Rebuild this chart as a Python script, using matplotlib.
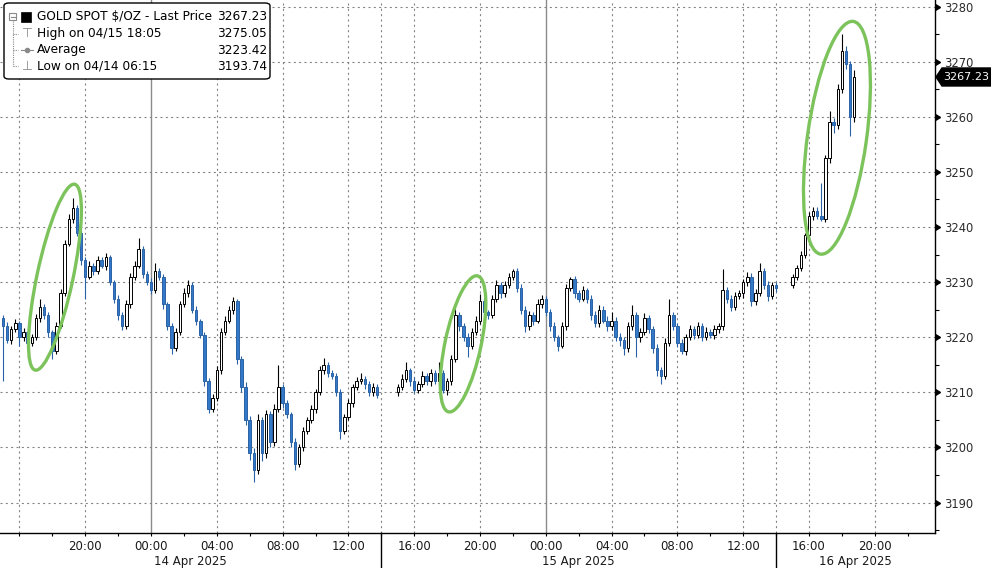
import matplotlib.pyplot as plt
import matplotlib.transforms as mtransforms
from matplotlib.patches import Ellipse, FancyBboxPatch, Polygon, Rectangle
from matplotlib.lines import Line2D
import numpy as np

# 15 minute bars, x = hours from 14 Apr 2025 00:00 (chart clock)
seg_start = [-9.0, 15.0, 39.0]
seg_open = [3223.5, 3210.0, 3229.5]

seg1_close = [3222.0, 3219.5, 3221.5, 3222.5, 3220.0, 3221.0, 3219.0, 3220.0, 3223.5, 3225.5,
              3224.0, 3221.0, 3217.5, 3222.0, 3228.0, 3237.0, 3241.5, 3243.5, 3239.0, 3234.0,
              3231.0, 3233.0, 3232.0, 3234.0, 3233.0, 3234.5, 3230.0, 3227.0, 3224.0, 3222.0,
              3226.0, 3231.0, 3233.0, 3236.0, 3231.5, 3230.0, 3228.5, 3232.0, 3231.0, 3226.0,
              3222.0, 3218.0, 3221.0, 3226.0, 3228.0, 3229.5, 3225.0, 3223.0, 3220.5, 3212.0,
              3207.0, 3209.0, 3214.0, 3221.0, 3223.0, 3225.0, 3226.5, 3216.0, 3211.0, 3205.0,
              3199.0, 3196.0, 3205.0, 3199.0, 3206.0, 3201.0, 3207.0, 3211.0, 3208.0, 3206.0,
              3201.0, 3197.0, 3200.0, 3203.0, 3205.0, 3207.0, 3210.0, 3214.0, 3215.0, 3213.5,
              3213.0, 3210.0, 3203.0, 3205.5, 3208.0, 3211.0, 3212.0, 3212.5, 3211.5, 3210.0,
              3211.0, 3209.5]
seg1_up = [0.5, 0.8, 0.6, 0.9, 0.4, 0.7, 0.5, 0.6, 0.8, 1.5,
           0.5, 0.6, 0.4, 0.7, 0.8, 0.6, 0.9, 1.8, 0.5, 0.7,
           0.6, 0.9, 0.5, 0.8, 0.6, 0.7, 0.5, 0.4, 0.6, 0.5,
           0.7, 0.6, 0.9, 2.0, 0.5, 0.6, 0.8, 1.5, 0.6, 0.5,
           0.4, 0.5, 0.7, 0.6, 0.9, 0.8, 0.5, 0.6, 0.4, 0.5,
           0.6, 0.7, 0.8, 0.6, 0.9, 0.7, 0.8, 0.5, 0.6, 0.8,
           0.7, 0.9, 1.0, 0.6, 0.8, 0.7, 0.9, 4.0, 0.5, 0.6,
           0.5, 0.7, 0.6, 0.8, 0.5, 0.7, 0.6, 0.8, 1.2, 0.5,
           0.6, 0.5, 0.7, 0.6, 0.8, 0.5, 0.7, 1.0, 0.5, 0.6,
           0.7, 0.5]
seg1_dn = [10.0, 0.6, 0.8, 0.5, 1.5, 0.7, 1.2, 0.6, 0.5, 0.8,
           0.6, 0.9, 1.5, 0.5, 0.4, 0.6, 0.5, 0.7, 0.6, 0.8,
           4.0, 0.5, 0.7, 0.6, 0.5, 0.8, 0.6, 0.7, 0.9, 0.6,
           0.5, 0.7, 0.6, 0.5, 0.8, 0.6, 0.7, 0.5, 0.6, 0.8,
           0.7, 1.0, 0.5, 0.6, 0.5, 0.7, 0.6, 0.8, 0.6, 0.9,
           0.8, 0.6, 0.5, 0.7, 0.6, 0.5, 0.7, 0.8, 0.9, 1.0,
           1.2, 2.26, 0.8, 1.5, 0.9, 1.0, 0.7, 0.6, 0.8, 0.7,
           0.9, 1.0, 0.6, 0.7, 0.5, 0.6, 0.7, 0.5, 0.6, 0.8,
           0.6, 0.7, 1.5, 0.6, 0.5, 0.7, 0.6, 0.5, 0.8, 0.6,
           0.7, 0.6]

seg2_close = [3211.0, 3212.5, 3214.0, 3212.0, 3210.5, 3211.5, 3213.0, 3212.0, 3213.5, 3212.0,
              3213.5, 3210.5, 3212.0, 3216.0, 3224.0, 3222.0, 3220.0, 3218.5, 3221.0, 3223.0,
              3226.5, 3224.5, 3224.0, 3227.0, 3229.5, 3228.0, 3229.5, 3231.0, 3232.0, 3229.0,
              3225.0, 3222.0, 3224.0, 3223.0, 3226.0, 3227.0, 3224.5, 3222.0, 3220.0, 3218.5,
              3222.0, 3229.0, 3230.5, 3228.0, 3227.0, 3228.5, 3227.0, 3224.0, 3222.5, 3225.0,
              3223.0, 3222.0, 3223.0, 3220.0, 3219.5, 3218.0, 3222.0, 3224.0, 3220.0, 3221.0,
              3223.5, 3221.5, 3218.0, 3214.0, 3213.0, 3219.0, 3224.0, 3222.0, 3219.0, 3217.5,
              3220.0, 3221.5, 3220.5, 3222.0, 3220.0, 3221.0, 3220.5, 3221.5, 3222.0, 3228.5,
              3227.0, 3225.5, 3227.5, 3228.0, 3230.0, 3231.0, 3226.5, 3228.0, 3232.0, 3229.5,
              3227.5, 3229.5, 3229.0]
seg2_up = [0.6, 0.8, 1.5, 0.5, 0.7, 0.6, 0.8, 0.5, 0.7, 0.6,
           2.0, 0.5, 0.6, 0.8, 1.2, 0.6, 0.5, 0.7, 0.6, 0.8,
           1.3, 0.6, 0.5, 0.7, 0.8, 0.6, 0.7, 0.6, 0.3, 0.5,
           0.6, 0.7, 0.8, 0.6, 0.9, 0.7, 0.5, 0.6, 0.7, 0.5,
           0.8, 0.6, 0.5, 0.7, 0.6, 0.8, 0.5, 0.6, 0.7, 0.9,
           0.6, 0.8, 1.5, 0.6, 0.7, 0.5, 0.8, 1.8, 0.6, 0.7,
           0.9, 0.6, 0.5, 0.7, 0.6, 0.8, 2.9, 0.6, 0.5, 0.7,
           0.6, 0.8, 0.5, 0.7, 0.6, 0.8, 0.5, 0.7, 0.6, 3.8,
           0.6, 0.7, 0.8, 0.6, 0.5, 0.9, 0.6, 0.8, 1.4, 0.6,
           0.7, 0.5, 0.6]
seg2_dn = [0.7, 0.5, 0.6, 0.8, 0.6, 0.7, 0.5, 0.6, 0.8, 0.5,
           0.6, 0.7, 1.0, 0.6, 0.5, 0.8, 0.6, 2.0, 0.7, 0.5,
           0.6, 0.8, 0.7, 0.5, 0.6, 0.8, 0.7, 0.5, 0.6, 0.8,
           0.7, 1.0, 0.6, 0.8, 0.5, 0.6, 0.7, 0.8, 0.6, 1.0,
           0.5, 0.7, 0.6, 0.8, 0.6, 0.5, 0.7, 0.8, 0.6, 0.7,
           0.5, 0.8, 0.6, 0.7, 1.0, 1.3, 0.6, 0.7, 3.5, 0.8,
           0.6, 0.7, 0.8, 1.0, 1.4, 0.6, 0.5, 0.7, 0.8, 0.6,
           0.7, 0.5, 0.8, 0.6, 0.7, 0.5, 0.6, 0.8, 0.7, 0.6,
           0.8, 0.7, 0.5, 0.6, 0.8, 0.7, 0.9, 0.6, 0.5, 0.7,
           1.0, 0.6, 0.7]

seg3_close = [3231.0, 3232.5, 3235.0, 3238.5, 3242.0, 3243.0, 3242.0, 3241.5, 3252.5, 3259.0,
              3258.5, 3265.0, 3272.0, 3269.5, 3260.0, 3267.23]
seg3_up = [0.5, 0.6, 0.7, 0.5, 0.8, 0.7, 0.6, 6.0, 0.6, 2.0, 0.8, 1.0, 3.05, 0.8, 0.7, 1.2]
seg3_dn = [0.5, 0.6, 0.5, 0.7, 0.6, 0.8, 0.5, 0.4, 0.6, 0.8, 1.5, 0.7, 0.6, 0.8, 3.5, 0.9]

last_price = 3267.23
high_price = 3275.05
avg_price = 3223.42
low_price = 3193.74

legend_rows = ["GOLD SPOT $/OZ - Last Price", "High on 04/15 18:05", "Average", "Low on 04/14 06:15"]
legend_vals = [last_price, high_price, avg_price, low_price]

y_ticks = list(range(3190, 3281, 10))
hour_ticks = list(range(-8, 45, 4))
day_breaks = [14, 38]
midnights = [0, 24]
day_labels = ["14 Apr 2025", "15 Apr 2025", "16 Apr 2025"]

# green rings: centre hour, centre price, width px, height px, tilt
rings = [(-5.84, 3230.9, 36, 190, -12),
         (18.97, 3218.8, 36, 139, -12),
         (41.70, 3256.2, 59, 235, -8)]

x_lim = (-9.18, 47.66)
y_lim = (3184.48, 3281.2)

dn_fill = '#3478c8'
dn_edge = '#2a62a6'
grid_col = '#808080'
dotted = (0, (1.8, 3))
plt.rcParams['font.family'] = 'DejaVu Sans'

W, H = 991, 568
fig = plt.figure(figsize=(W / 100, H / 100), dpi=100)
ax = fig.add_axes([0, 35 / H, 935 / W, 533 / H])
ax.set_xlim(*x_lim)
ax.set_ylim(*y_lim)

# grid
for y in y_ticks:
    ax.axhline(y, color=grid_col, lw=0.8, ls=dotted, zorder=0)
for h in hour_ticks + day_breaks:
    if h in midnights:
        continue
    ax.axvline(h, color=grid_col, lw=0.8, ls=dotted, zorder=0)
for h in midnights:
    ax.axvline(h, color='#8a8a8a', lw=1.0, zorder=0)

# candles
segments = [(seg1_close, seg1_up, seg1_dn), (seg2_close, seg2_up, seg2_dn), (seg3_close, seg3_up, seg3_dn)]
for start, o0, (closes, up, dn) in zip(seg_start, seg_open, segments):
    c = np.array(closes)
    o = np.concatenate([[o0], c[:-1]])
    t = start + 0.25 * np.arange(len(c))
    top = np.maximum(o, c)
    bot = np.minimum(o, c)
    hi = top + np.array(up)
    lo = bot - np.array(dn)
    rise = c >= o
    body = np.maximum(top - bot, 0.15)
    ax.vlines(t[rise], lo[rise], hi[rise], color='black', lw=0.8, zorder=2)
    ax.vlines(t[~rise], lo[~rise], hi[~rise], color=dn_edge, lw=0.8, zorder=2)
    ax.bar(t[rise], body[rise], bottom=bot[rise], width=0.15, color='white',
           edgecolor='black', lw=0.7, zorder=3)
    ax.bar(t[~rise], body[~rise], bottom=bot[~rise], width=0.15, color=dn_fill,
           edgecolor=dn_edge, lw=0.7, zorder=3)

# rings round the big moves
for cx, cy, w, h, ang in rings:
    tr = fig.dpi_scale_trans + mtransforms.ScaledTranslation(cx, cy, ax.transData)
    ax.add_patch(Ellipse((0, 0), w / 100, h / 100, angle=ang, transform=tr, fill=False,
                         ec='#7cc35c', lw=2.4, zorder=5, clip_on=False))

# axes look
for s in ['top', 'left']:
    ax.spines[s].set_visible(False)
ax.spines['bottom'].set_linewidth(1)
ax.spines['right'].set_linewidth(1)

ax.yaxis.set_ticks_position('right')
ax.set_yticks(y_ticks)
ax.set_yticklabels([str(y) for y in y_ticks])
ax.set_yticks(np.arange(3185, 3281, 10), minor=True)
ax.tick_params(axis='y', which='major', length=0, pad=6.5, labelsize=8.3, labelcolor='#2a2a2a')
ax.tick_params(axis='y', which='minor', length=3, width=0.8, direction='out')
ax.plot(np.ones(len(y_ticks)), y_ticks, transform=ax.get_yaxis_transform(), ls='none',
        marker=9, ms=5, color='black', clip_on=False, zorder=6)

ax.set_xticks(hour_ticks)
ax.set_xticklabels(['' if h == -8 else f"{h % 24:02d}:00" for h in hour_ticks])
ax.set_xticks(np.arange(-8, 47, 2), minor=True)
ax.tick_params(axis='x', which='both', length=2.5, width=0.8, direction='out')
ax.tick_params(axis='x', which='major', pad=2.5, labelsize=8.5, labelcolor='#1a1a1a')

# day labels and session breaks under the axis
edges = [x_lim[0]] + day_breaks + [x_lim[1]]
lab_tr = ax.get_xaxis_transform() + mtransforms.ScaledTranslation(0, -0.28, fig.dpi_scale_trans)
for i, lab in enumerate(day_labels):
    ax.text((edges[i] + edges[i + 1]) / 2, 0, lab, transform=lab_tr, ha='center', va='center',
            fontsize=8.5, color='#1a1a1a')
for h in day_breaks:
    ax.plot([h, h], [0, -35 / 533], transform=ax.get_xaxis_transform(), color='black',
            lw=1, clip_on=False)

# last price tag
tag_tr = fig.dpi_scale_trans + mtransforms.ScaledTranslation(1, last_price, ax.get_yaxis_transform())
ax.add_patch(Polygon([(0.01, 0), (0.07, 0.09), (0.57, 0.09), (0.57, -0.09), (0.07, -0.09)],
                     closed=True, transform=tag_tr, fc='black', ec='black', clip_on=False, zorder=7))
ax.text(0.08, 0, f"{last_price:.2f}", transform=tag_tr, color='white', fontsize=8,
        va='center', ha='left', zorder=8)

# legend box
def fx(x):
    return x / W

def fy(y):
    return 1 - y / H

fig.patches.append(FancyBboxPatch((fx(4), fy(79)), fx(266), 76 / H,
                                  boxstyle="round,pad=0,rounding_size=0.005",
                                  transform=fig.transFigure, fc='white', ec='black', lw=1, zorder=10))
rows_y = [17, 33.5, 50, 66]
for lab, val, yy in zip(legend_rows, legend_vals, rows_y):
    fig.text(fx(37), fy(yy), lab, fontsize=8.7, va='center', ha='left', color='black', zorder=11)
    fig.text(fx(267), fy(yy), f"{val:.2f}", fontsize=8.7, va='center', ha='right', color='black', zorder=11)

# little tree icons on the left of the legend
ic = '#8a8a8a'
fig.patches.append(Rectangle((fx(9), fy(20)), fx(7), 7 / H, transform=fig.transFigure,
                             fc='white', ec=ic, lw=0.8, zorder=11))
fig.lines.append(Line2D([fx(10.5), fx(14.5)], [fy(16.5), fy(16.5)], transform=fig.transFigure, color=ic, lw=0.8, zorder=12))
fig.patches.append(Rectangle((fx(21), fy(22)), fx(10), 10 / H, transform=fig.transFigure,
                             fc='black', ec='black', lw=0.5, zorder=11))
fig.lines.append(Line2D([fx(12.5), fx(12.5)], [fy(21), fy(66)], transform=fig.transFigure,
                        color=ic, lw=0.8, ls=(0, (1, 1)), zorder=11))
for yy in rows_y[1:]:
    fig.lines.append(Line2D([fx(12.5), fx(18)], [fy(yy), fy(yy)], transform=fig.transFigure,
                            color=ic, lw=0.8, ls=(0, (1, 1)), zorder=11))
fig.text(fx(27), fy(33), "\u22a4", fontsize=9, color=ic, ha='center', va='center', zorder=11)
fig.lines.append(Line2D([fx(21), fx(27), fx(33)], [fy(50), fy(50), fy(50)], transform=fig.transFigure,
                        color=ic, lw=0.8, marker='o', markevery=[1], ms=3, zorder=11))
fig.text(fx(27), fy(66), "\u22a5", fontsize=9, color=ic, ha='center', va='center', zorder=11)

fig.savefig('out.png', dpi=100)
